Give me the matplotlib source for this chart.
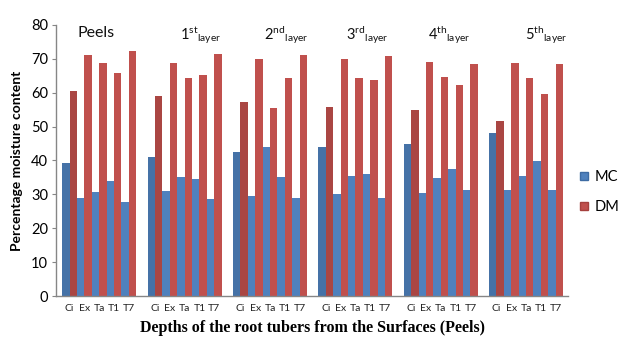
import matplotlib
matplotlib.use("Agg")
import matplotlib.pyplot as plt
from matplotlib.patches import Patch
import numpy as np

groups = ["Peels", "1st layer", "2nd layer", "3rd layer", "4th layer", "5th layer"]
group_labels = [
    "Peels",
    r"$\mathregular{1^{st}{}_{layer}}$",
    r"$\mathregular{2^{nd}{}_{layer}}$",
    r"$\mathregular{3^{rd}{}_{layer}}$",
    r"$\mathregular{4^{th}{}_{layer}}$",
    r"$\mathregular{5^{th}{}_{layer}}$",
]
categories = ["Ci", "Ex", "Ta", "T1", "T7"]

mc = [
    [39.3, 28.8, 30.8, 33.8, 27.7],
    [40.9, 31.0, 35.1, 34.6, 28.5],
    [42.6, 29.6, 44.0, 35.1, 28.8],
    [44.0, 30.0, 35.4, 36.0, 28.8],
    [44.8, 30.5, 34.9, 37.6, 31.3],
    [48.1, 31.3, 35.4, 39.8, 31.3],
]
dm = [
    [60.5, 71.1, 68.8, 65.8, 72.2],
    [58.9, 68.6, 64.4, 65.2, 71.4],
    [57.3, 70.0, 55.6, 64.4, 71.1],
    [55.8, 70.0, 64.4, 63.6, 70.9],
    [55.0, 69.1, 64.7, 62.3, 68.4],
    [51.7, 68.6, 64.4, 59.7, 68.4],
]

blue = "#4F81BD"
red = "#C0504D"
blue_dark = "#4572A7"
red_dark = "#AA4643"

plt.rcParams["font.family"] = ["Lato", "DejaVu Sans"]

fig = plt.figure(figsize=(6.24, 3.45), dpi=100)
ax = fig.add_axes([0.0905, 0.142, 0.820, 0.786])

spacing = 5.764
w = 0.5
ticks, ticklabels = [], []
for g in range(len(groups)):
    for c, cat in enumerate(categories):
        xc = g * spacing + c
        cb = blue_dark if c == 0 else blue
        cr = red_dark if c == 0 else red
        ax.bar(xc - w / 2, mc[g][c], width=w, color=cb, linewidth=0)
        ax.bar(xc + w / 2, dm[g][c], width=w, color=cr, linewidth=0)
        ticks.append(xc)
        ticklabels.append(cat)

ax.set_xlim(-0.89, 5 * spacing + 4 + 0.84)
ax.set_ylim(0, 80)
ax.set_yticks(np.arange(0, 81, 10))
ax.set_xticks(ticks)
ax.set_xticklabels(ticklabels, fontsize=7.5, color="#222222")
ax.tick_params(axis="x", length=0, pad=6)
ax.tick_params(axis="y", length=3, direction="out", color="#868686", labelsize=10.5, pad=3)

for s in ["top", "right"]:
    ax.spines[s].set_visible(False)
for s in ["left", "bottom"]:
    ax.spines[s].set_color("#868686")
    ax.spines[s].set_linewidth(1.0)

label_offsets = [1.0, 2.19, 2.10, 1.88, 1.66, 2.45]
for g, lab in enumerate(group_labels):
    x0 = g * spacing - 0.5 + label_offsets[g]
    if g == 0:
        ax.text(x0, 77.5, lab, fontsize=11.5, ha="left", va="center", color="#111111")
    else:
        ax.text(x0, 77.0, lab, fontsize=10.5, ha="left", va="center", color="#111111")

ax.set_ylabel("Percentage moisture content", fontsize=10, fontweight="bold", labelpad=6)
ax.set_xlabel("Depths of the root tubers from the Surfaces (Peels)",
              fontsize=11.5, fontweight="bold", family="Liberation Serif", labelpad=5)

handles = [Patch(facecolor=blue, edgecolor="#3d6ba3", label="MC"),
           Patch(facecolor=red, edgecolor="#a5403d", label="DM")]
fig.legend(handles=handles, loc="center left", bbox_to_anchor=(0.929, 0.443),
           frameon=False, fontsize=10.5, handlelength=0.55, handleheight=0.55,
           handletextpad=0.5, labelspacing=1.1, borderpad=0, borderaxespad=0)

fig.savefig("out.png", dpi=100)
